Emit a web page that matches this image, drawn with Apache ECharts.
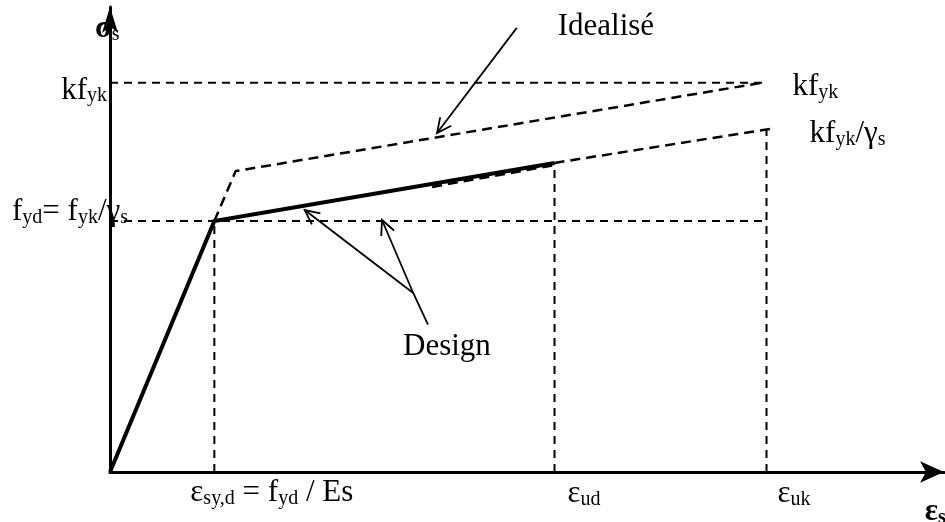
<!DOCTYPE html>
<html>
<head>
<meta charset="utf-8">
<title>Diagramme contrainte-déformation de l'acier</title>
<script src="https://cdn.jsdelivr.net/npm/echarts@6/dist/echarts.min.js"></script>
<style>
  html, body { margin: 0; padding: 0; background: #fff; }
  #chart { width: 945px; height: 522px; }
</style>
</head>
<body>
<div id="chart"></div>
<script>
// Key strain levels on the horizontal axis: ε_sy,d, ε_ud, ε_uk
const strainLevels = [12.7, 54.1, 79.9];
// Key stress levels on the vertical axis: f_yd, k·f_yk
const stressLevels = [55.4, 85.9];
// Heights reached by the vertical guides at ε_sy,d, ε_ud, ε_uk
const guideTops = [55.4, 68.2, 75.6];

// Design curve (solid): elastic branch then inclined branch up to ε_ud
const designStrain = [0, 12.7, 54.1];
const designStress = [0, 55.4, 68.2];
// Design inclined branch continued (dashed) up to k·f_yk/γs
const designTailStrain = [54.1, 81.0];
const designTailStress = [68.2, 75.9];
// Idealised characteristic curve (dashed)
const idealStrain = [12.7, 15.3, 79.4];
const idealStress = [55.4, 66.4, 85.9];
// Short dashed branch lying along the design line
const inclinedStrain = [39.2, 54.1];
const inclinedStress = [62.9, 67.7];

// Pointer lines: start, end, and whether an arrow head is drawn at the end
const pointerFrom = [[49.5, 98.0], [36.9, 39.5], [36.9, 39.5], [38.7, 32.5]];
const pointerTo   = [[39.8, 74.8], [23.7, 57.8], [33.1, 55.6], [36.9, 39.5]];
const pointerHead = [1, 1, 1, 0];

// Axis extents (the arrow tips sit at the ends)
const strainMax = 101.5;
const stressMax = 102.6;

// Texts (rich-text markup for subscripts)
const labelTexts = {
  sigma: '{b|σ}{s|s}',
  eps: '{b|ε}{sb|s}',
  kfykLeft: '{m|kf}{s|yk}',
  fyd: '{m|f}{s|yd}{m|= f}{s|yk}{m|/γ}{s|s}',
  kfykRight: '{m|kf}{s|yk}',
  kfykGamma: '{m|kf}{s|yk}{m|/γ}{s|s}',
  esyd: '{m|ε}{s|sy,d}{m| = f}{s|yd}{m| / Es}',
  eud: '{m|ε}{s|ud}',
  euk: '{m|ε}{s|uk}',
  ideal: '{m|Idealisé}',
  design: '{m|Design}'
};

const FONT = '"Liberation Serif", "Times New Roman", Times, serif';
const rich = {
  m:  { fontFamily: FONT, fontSize: 31, lineHeight: 34, color: '#000', verticalAlign: 'bottom' },
  s:  { fontFamily: FONT, fontSize: 20, lineHeight: 18, color: '#000', verticalAlign: 'bottom' },
  b:  { fontFamily: FONT, fontSize: 31, lineHeight: 34, color: '#000', fontWeight: 'bold', verticalAlign: 'bottom' },
  sb: { fontFamily: FONT, fontSize: 20, lineHeight: 18, color: '#000', fontWeight: 'bold', verticalAlign: 'bottom' }
};

const pair = (xs, ys) => xs.map((x, i) => [x, ys[i]]);

const [eSy, eUd, eUk] = strainLevels;
const [fYd, kfYk] = stressLevels;

// Text anchors (data coordinates) with pixel offsets for placement
function textItem(value, text, dx, dy, align) {
  return {
    value: value,
    label: {
      show: true,
      formatter: text,
      position: [dx, dy],
      align: align || 'left',
      verticalAlign: 'middle',
      color: '#000',
      opacity: 1,
      textBorderWidth: 0,
      rich: rich
    }
  };
}

const texts = [
  textItem([0, 100], labelTexts.sigma, -15, 8.5),
  textItem([100, 0], labelTexts.eps, -7, 38.5),
  textItem([0, kfYk], labelTexts.kfykLeft, -3, 6.5, 'right'),
  textItem([0, fYd], labelTexts.fyd, -98, -10.5),
  textItem([idealStrain[2], idealStress[2]], labelTexts.kfykRight, 30, 3),
  textItem([designTailStrain[1], designTailStress[1]], labelTexts.kfykGamma, 34, 4.5),
  textItem([eSy, 0], labelTexts.esyd, -24, 19.5),
  textItem([eUd, 0], labelTexts.eud, 13, 20.5),
  textItem([eUk, 0], labelTexts.euk, 11, 20.5),
  textItem(pointerFrom[0], labelTexts.ideal, 41, -2.5),
  textItem(pointerFrom[3], labelTexts.design, -25, 20.5)
];

const refStyle = { color: '#000', width: 2, type: [8, 6] };
const guideLines = [];
// vertical guides from the strain axis
strainLevels.forEach((e, i) => {
  guideLines.push({
    type: 'line', data: [[e, 0], [e, guideTops[i]]], symbol: 'none',
    lineStyle: refStyle, silent: true, z: 2
  });
});
// horizontal guides from the stress axis
guideLines.push({
  type: 'line', data: [[0, fYd], [eUk, fYd]], symbol: 'none', lineStyle: refStyle, silent: true, z: 2
});
guideLines.push({
  type: 'line', data: [[0, kfYk], [idealStrain[2], kfYk]], symbol: 'none', lineStyle: refStyle, silent: true, z: 2
});

const pointerData = pointerFrom.map((p, i) => [p[0], p[1], pointerTo[i][0], pointerTo[i][1], pointerHead[i]]);

function renderPointer(params, api) {
  const a = api.coord([api.value(0), api.value(1)]);
  const b = api.coord([api.value(2), api.value(3)]);
  const children = [{
    type: 'line',
    shape: { x1: a[0], y1: a[1], x2: b[0], y2: b[1] },
    style: { stroke: '#000', lineWidth: 1.8 }
  }];
  if (api.value(4)) {
    const ang = Math.atan2(b[1] - a[1], b[0] - a[0]);
    const L = 16, spread = 0.45;
    children.push({
      type: 'polyline',
      shape: {
        points: [
          [b[0] - L * Math.cos(ang - spread), b[1] - L * Math.sin(ang - spread)],
          [b[0], b[1]],
          [b[0] - L * Math.cos(ang + spread), b[1] - L * Math.sin(ang + spread)]
        ]
      },
      style: { stroke: '#000', lineWidth: 1.8, fill: null }
    });
  }
  return { type: 'group', children: children };
}

const axisCommon = {
  type: 'value', min: 0,
  axisTick: { show: false }, axisLabel: { show: false }, splitLine: { show: false },
  axisLine: {
    show: true, onZero: false,
    symbol: ['none', 'arrow'],
    lineStyle: { color: '#000', width: 3 }
  }
};

const chart = echarts.init(document.getElementById('chart'), null, { renderer: 'canvas' });
chart.setOption({
  animation: false,
  backgroundColor: '#fff',
  grid: { left: 110, right: 1, top: 7, bottom: 50 },
  xAxis: Object.assign({}, axisCommon, {
    max: strainMax,
    axisLine: Object.assign({}, axisCommon.axisLine, { symbolSize: [16, 24] })
  }),
  yAxis: Object.assign({}, axisCommon, {
    max: stressMax,
    axisLine: Object.assign({}, axisCommon.axisLine, { symbolSize: [12, 26] })
  }),
  series: guideLines.concat([
    {
      type: 'line', data: pair(idealStrain, idealStress), symbol: 'none', silent: true, z: 3,
      lineStyle: { color: '#000', width: 2.5, type: [10, 6] }
    },
    {
      type: 'line', data: pair(designTailStrain, designTailStress), symbol: 'none', silent: true, z: 3,
      lineStyle: { color: '#000', width: 2.5, type: [10, 6] }
    },
    {
      type: 'line', data: pair(inclinedStrain, inclinedStress), symbol: 'none', silent: true, z: 3,
      lineStyle: { color: '#000', width: 2.5, type: [10, 6] }
    },
    {
      type: 'line', data: pair(designStrain, designStress), symbol: 'none', silent: true, z: 4,
      lineStyle: { color: '#000', width: 4, join: 'miter' }
    },
    {
      type: 'custom', renderItem: renderPointer, data: pointerData, silent: true, z: 5,
      encode: { x: [0, 2], y: [1, 3] }
    },
    {
      type: 'scatter', data: texts, symbolSize: 0, itemStyle: { color: '#000' },
      silent: true, z: 6
    }
  ])
});
</script>
</body>
</html>
